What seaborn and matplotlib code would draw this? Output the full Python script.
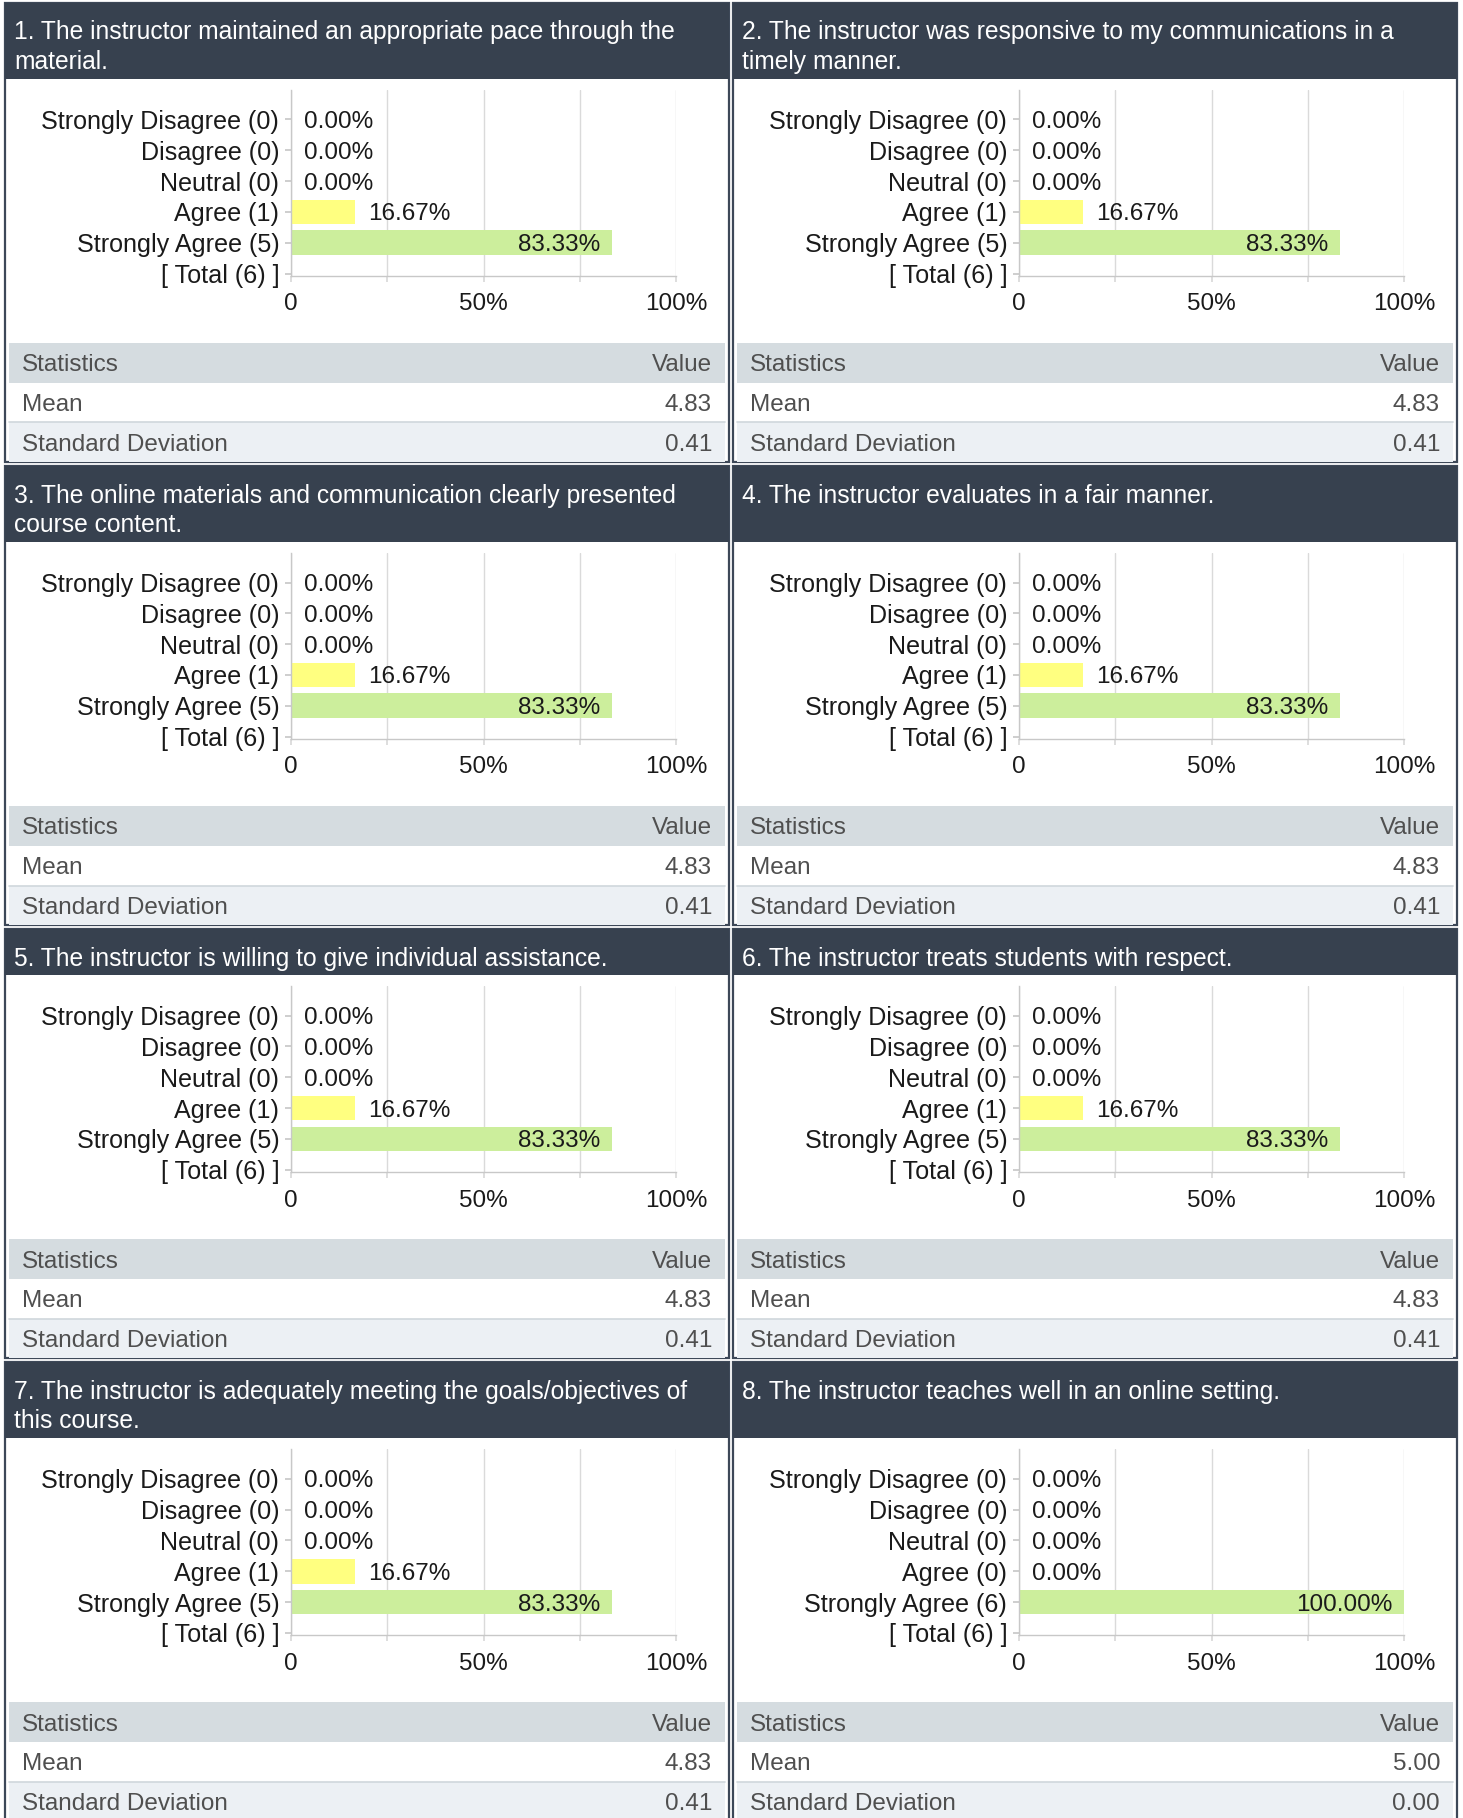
import matplotlib
matplotlib.use("Agg")
import matplotlib.pyplot as plt
from matplotlib.patches import Rectangle
import pandas as pd
import seaborn as sns

# survey results, one list per question
questions = [
    "1. The instructor maintained an appropriate pace through the\nmaterial.",
    "2. The instructor was responsive to my communications in a\ntimely manner.",
    "3. The online materials and communication clearly presented\ncourse content.",
    "4. The instructor evaluates in a fair manner.",
    "5. The instructor is willing to give individual assistance.",
    "6. The instructor treats students with respect.",
    "7. The instructor is adequately meeting the goals/objectives of\nthis course.",
    "8. The instructor teaches well in an online setting.",
]
categories = ["Strongly Disagree", "Disagree", "Neutral", "Agree", "Strongly Agree"]
counts = [
    [0, 0, 0, 1, 5],
    [0, 0, 0, 1, 5],
    [0, 0, 0, 1, 5],
    [0, 0, 0, 1, 5],
    [0, 0, 0, 1, 5],
    [0, 0, 0, 1, 5],
    [0, 0, 0, 1, 5],
    [0, 0, 0, 0, 6],
]
means = ["4.83", "4.83", "4.83", "4.83", "4.83", "4.83", "4.83", "5.00"]
std_devs = ["0.41", "0.41", "0.41", "0.41", "0.41", "0.41", "0.41", "0.00"]
bar_colors = ["#F4A6A6", "#F8CFA0", "#DDDDDD", "#FFFF80", "#CCEE9C"]

sns.set_theme(style="white")
plt.rcParams["font.family"] = ["Liberation Sans", "DejaVu Sans"]

W, H = 1463, 1818
fig = plt.figure(figsize=(W / 100, H / 100), dpi=100)

# background layer in pixel coordinates
bg = fig.add_axes([0, 0, 1, 1])
bg.set_xlim(0, W)
bg.set_ylim(H, 0)
bg.axis("off")

DARK = "#37414F"
BORDER = "#3D4858"
TXT = "#4F4F4F"
FS = 17.5

col_x = [5, 733]
panel_w = 724
chart_h = 264
row_h = 39.7

top = 3
for r in range(4):
    pair = [2 * r, 2 * r + 1]
    header_h = 76 if any("\n" in questions[q] for q in pair) else 46
    panel_h = header_h + chart_h + 3 * row_h
    for c, q in enumerate(pair):
        x0 = col_x[c]
        hb = top + header_h
        # panel frame + header
        bg.add_patch(Rectangle((x0, top), panel_w, panel_h, facecolor="white",
                               edgecolor=BORDER, lw=1.6))
        bg.add_patch(Rectangle((x0, top), panel_w, header_h, facecolor=DARK, lw=0))
        for k, line in enumerate(questions[q].split("\n")):
            bg.text(x0 + 9, top + 27 + 29.5 * k, line, color="white", fontsize=17.7,
                    va="center_baseline", ha="left")

        # statistics table
        st = hb + chart_h
        bg.add_patch(Rectangle((x0 + 4, st), panel_w - 8, row_h, facecolor="#D5DCE0", lw=0))
        bg.add_patch(Rectangle((x0 + 4, st + 2 * row_h), panel_w - 8, row_h,
                               facecolor="#ECF0F4", lw=0))
        bg.plot([x0 + 4, x0 + panel_w - 4], [st + 2 * row_h, st + 2 * row_h],
                color="#D0D7DC", lw=1.2)
        rows = [("Statistics", "Value"), ("Mean", means[q]),
                ("Standard Deviation", std_devs[q])]
        for k, (name, val) in enumerate(rows):
            yc = st + row_h * (k + 0.5)
            bg.text(x0 + 17, yc, name, color=TXT, fontsize=FS,
                    va="center_baseline", ha="left")
            bg.text(x0 + panel_w - 17, yc, val, color=TXT, fontsize=FS,
                    va="center_baseline", ha="right")

        # bar chart
        total = sum(counts[q])
        pct = [v / total * 100 for v in counts[q]]
        labels = [f"{cat} ({n})" for cat, n in zip(categories, counts[q])]
        df = pd.DataFrame({"label": labels, "pct": pct})

        ax_l = x0 + 286
        ax_t = hb + 11
        ax_w, ax_h = 385, 186
        ax = fig.add_axes([ax_l / W, 1 - (ax_t + ax_h) / H, ax_w / W, ax_h / H])
        sns.barplot(data=df, x="pct", y="label", hue="label", palette=bar_colors,
                    orient="h", width=0.8, linewidth=0, saturation=1,
                    legend=False, ax=ax)
        ax.set_xlim(0, 100)
        ax.set_ylim(5.08, -0.955)
        ax.set_yticks(range(6))
        ax.set_yticklabels(labels + [f"[ Total ({total}) ]"])
        ax.set_xticks([0, 25, 50, 75, 100])
        ax.set_xticklabels(["0", "", "50%", "", "100%"])
        ax.set_xlabel("")
        ax.set_ylabel("")
        ax.set_axisbelow(True)
        ax.grid(axis="x", color="#DADADA", lw=1)
        ax.grid(axis="y", visible=False)
        for s in ["top", "right"]:
            ax.spines[s].set_visible(False)
        for s in ["left", "bottom"]:
            ax.spines[s].set_color("#C8C8C8")
            ax.spines[s].set_linewidth(1)
        ax.tick_params(axis="x", length=4, color="#DADADA", labelsize=FS,
                       pad=8.5, labelcolor="#1A1A1A", bottom=True)
        ax.tick_params(axis="y", length=4, color="#C8C8C8", labelsize=18.1,
                       pad=4.5, labelcolor="#1A1A1A", left=True)

        for i, v in enumerate(pct):
            txt = f"{v:.2f}%"
            if v > 50:
                ax.annotate(txt, xy=(v, i), xytext=(-8, 0), textcoords="offset points",
                            ha="right", va="center_baseline", fontsize=FS, color="#1A1A1A")
            else:
                ax.annotate(txt, xy=(v, i), xytext=(9.5, 0), textcoords="offset points",
                            ha="left", va="center_baseline", fontsize=FS, color="#1A1A1A")
    top += panel_h + 4

fig.savefig("out.png", dpi=100)
